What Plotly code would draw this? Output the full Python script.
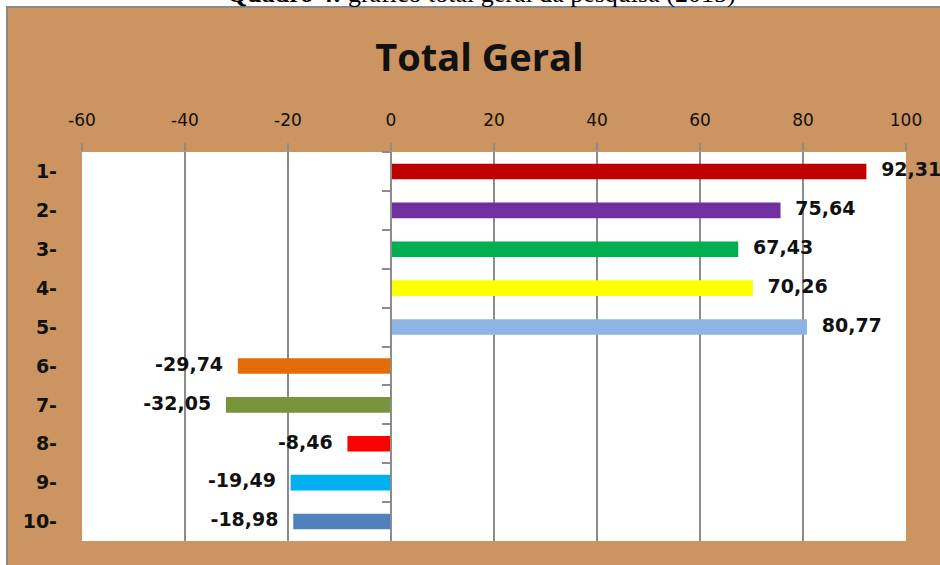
import plotly.graph_objects as go

categories = ["1-", "2-", "3-", "4-", "5-", "6-", "7-", "8-", "9-", "10-"]
values = [92.31, 75.64, 67.43, 70.26, 80.77, -29.74, -32.05, -8.46, -19.49, -18.98]
labels = ["92,31", "75,64", "67,43", "70,26", "80,77", "-29,74", "-32,05", "-8,46", "-19,49", "-18,98"]
colors = ["#C00000", "#7030A0", "#00B050", "#FFFF00", "#8DB4E2",
          "#E36C09", "#77933C", "#FF0000", "#00B0F0", "#4F81BD"]
x_ticks = [-60, -40, -20, 0, 20, 40, 60, 80, 100]
x_ticktext = ["-60", "-40", "-20", "0", "20", "40", "60", "80", "100"]

font_main = "DejaVu Sans"

fig = go.Figure()
fig.add_trace(go.Bar(
    y=categories, x=values, orientation="h",
    marker=dict(color=colors, line=dict(width=0)),
    width=0.4, showlegend=False,
))
# value labels, pushed away from the bar ends by an invisible marker
fig.add_trace(go.Scatter(
    y=categories, x=values, mode="markers+text",
    text=labels,
    textposition=["middle right" if v >= 0 else "middle left" for v in values],
    marker=dict(size=22, opacity=0),
    textfont=dict(family=font_main, size=19, color="#111111", weight="bold"),
    cliponaxis=False, showlegend=False, hoverinfo="skip",
))
# dummy trace on the second y axis so the zero-line ticks show up
fig.add_trace(go.Bar(y=categories, x=[0] * len(categories), orientation="h",
                     yaxis="y2", showlegend=False, hoverinfo="skip",
                     marker=dict(color="rgba(0,0,0,0)")))

zero_pos = (0 - x_ticks[0]) / (x_ticks[-1] - x_ticks[0])
y_range = [len(categories) - 0.5, -0.5]

fig.update_layout(
    width=940, height=565,
    margin=dict(l=82, r=34, t=152, b=24, autoexpand=False),
    paper_bgcolor="white",
    plot_bgcolor="white",
    bargap=0.6,
    title=dict(text="<b>Total Geral</b>", x=0.51, xanchor="center", y=0.897, yanchor="middle",
               font=dict(family="Open Sans", size=38, color="#111111")),
    xaxis=dict(
        side="top", range=[x_ticks[0], x_ticks[-1]], tickvals=x_ticks, ticktext=x_ticktext,
        showgrid=True, gridcolor="#8C8C8C", gridwidth=1.5,
        zeroline=False, showline=False, automargin=False,
        ticks="outside", ticklen=8, tickcolor="#8C8C8C", tickwidth=1.5,
        ticklabelstandoff=10,
        tickfont=dict(family=font_main, size=17, color="#111111"),
    ),
    yaxis=dict(
        range=y_range, showgrid=False, zeroline=False, showline=False, automargin=False,
        ticks="", tickfont=dict(family=font_main, size=19, color="#111111", weight="bold"),
        ticklabelstandoff=24,
    ),
    yaxis2=dict(
        overlaying="y", anchor="free", position=zero_pos, side="left",
        range=y_range, showgrid=False, zeroline=False, automargin=False,
        showline=True, linecolor="#8C8C8C", linewidth=1.5,
        ticks="outside", tickson="boundaries", ticklen=8, tickcolor="#8C8C8C", tickwidth=1.5,
        showticklabels=False,
    ),
)

# wooden frame around the chart, white plot area on top of it, cut caption above
fig.add_shape(type="rect", xref="paper", yref="paper", x0=-0.091, x1=1.05, y0=-0.07, y1=1.373,
              fillcolor="#CB9461", line=dict(width=2, color="#8A8A8A"), layer="below")
fig.add_shape(type="rect", xref="paper", yref="paper", x0=0, x1=1, y0=0, y1=1,
              fillcolor="white", line=dict(width=0), layer="below")
fig.add_annotation(text="<b>Quadro 4:</b> gráfico total geral da pesquisa (2015)",
                   xref="paper", yref="paper", x=0.485, y=1.366, yanchor="bottom", showarrow=False,
                   font=dict(family="Liberation Serif", size=26, color="black"))

# the page's default body margin would shift the whole figure by 8px
fig.write_html("out.html", config={"displayModeBar": False},
               post_script="document.body.style.margin='0px';")
